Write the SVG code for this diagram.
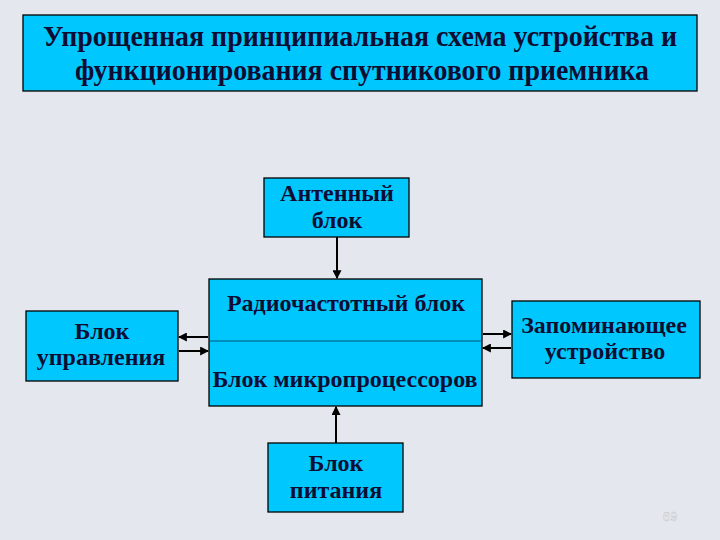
<svg xmlns="http://www.w3.org/2000/svg" width="720" height="540" viewBox="0 0 720 540">
<defs>
<style>
.box{fill:#00c8ff;stroke:#000;stroke-width:1.3}
.t{font-family:"Liberation Serif","Times New Roman",serif;font-weight:bold;fill:#0d0d33;text-anchor:middle}
.title{font-size:28.5px}
.n{font-size:24px}
.c{stroke:#000;stroke-width:2;fill:none}
</style>
<marker id="ah" viewBox="0 0 8 8" refX="7" refY="4" markerWidth="4.5" markerHeight="4.5" orient="auto" markerUnits="strokeWidth">
<path d="M0,0 L8,4 L0,8 z" fill="#000"/>
</marker>
</defs>
<rect width="720" height="540" fill="#e4e8ee"/>
<g id="title">
<rect class="box" x="23" y="15" width="674" height="76"/>
<text class="t title" x="360" y="46" textLength="634" lengthAdjust="spacingAndGlyphs">Упрощенная принципиальная схема устройства и</text>
<text class="t title" x="362" y="80" textLength="574" lengthAdjust="spacingAndGlyphs">функционирования спутникового приемника</text>
</g>
<g id="antenna">
<rect class="box" x="264" y="178" width="145" height="59"/>
<text class="t n" x="337" y="201">Антенный</text>
<text class="t n" x="337" y="228">блок</text>
</g>
<g id="center">
<rect class="box" x="209" y="279" width="273" height="127"/>
<line x1="209" y1="341" x2="482" y2="341" stroke="#00577a" stroke-width="1"/>
<text class="t n" x="346" y="311">Радиочастотный блок</text>
<text class="t n" x="345" y="387">Блок микропроцессоров</text>
</g>
<g id="control">
<rect class="box" x="26" y="311" width="152" height="70"/>
<text class="t n" x="102" y="339">Блок</text>
<text class="t n" x="101" y="365">управления</text>
</g>
<g id="memory">
<rect class="box" x="512" y="301" width="188" height="77"/>
<text class="t n" x="604" y="333">Запоминающее</text>
<text class="t n" x="605" y="359">устройство</text>
</g>
<g id="power">
<rect class="box" x="268" y="443" width="135" height="69"/>
<text class="t n" x="336" y="471">Блок</text>
<text class="t n" x="336" y="498">питания</text>
</g>
<g id="connectors">
<line class="c" x1="337" y1="237" x2="337" y2="278" marker-end="url(#ah)"/>
<line class="c" x1="336" y1="443" x2="336" y2="407" marker-end="url(#ah)"/>
<line class="c" x1="208" y1="337" x2="179" y2="337" marker-end="url(#ah)"/>
<line class="c" x1="179" y1="351" x2="208" y2="351" marker-end="url(#ah)"/>
<line class="c" x1="483" y1="334" x2="511" y2="334" marker-end="url(#ah)"/>
<line class="c" x1="511" y1="348" x2="483" y2="348" marker-end="url(#ah)"/>
</g>
<text x="670" y="521" font-family="Liberation Sans, Arial, sans-serif" font-size="13" fill="#f4f6f8" stroke="#b8bcc4" stroke-width="0.4" text-anchor="middle">69</text>
</svg>
